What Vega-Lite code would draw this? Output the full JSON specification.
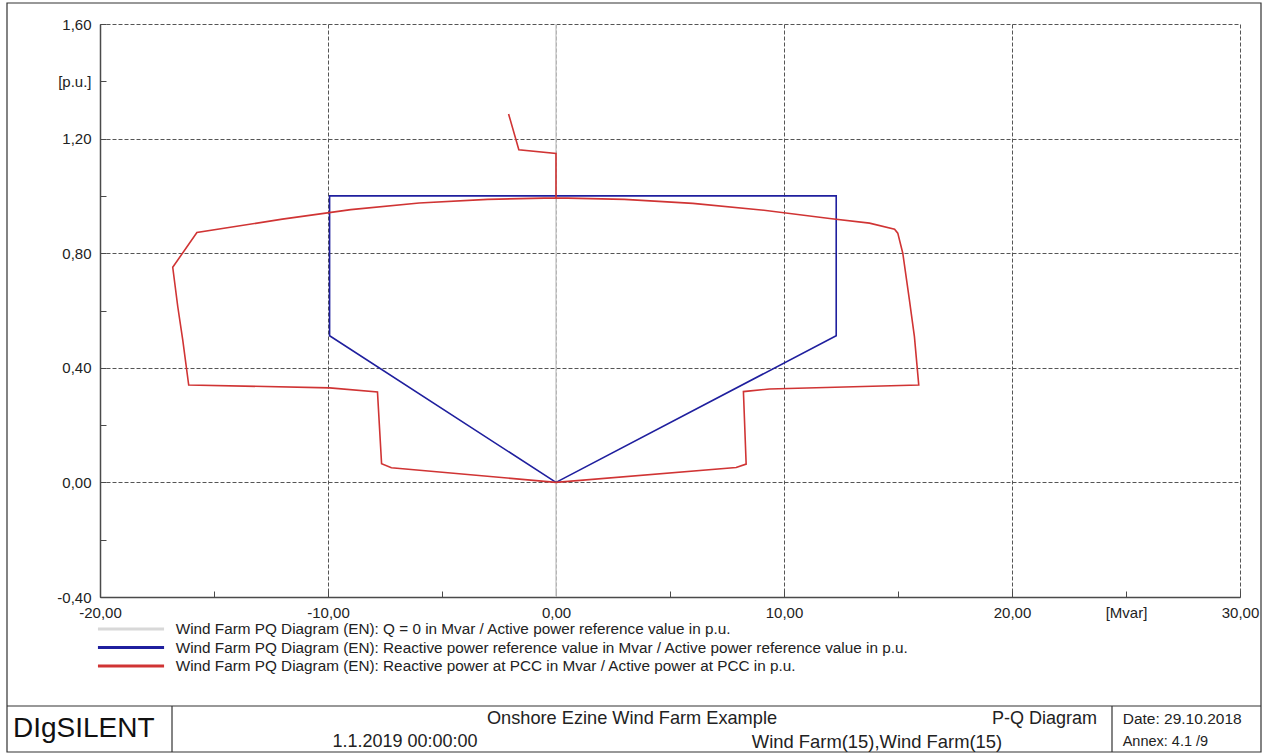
{
  "$schema": "https://vega.github.io/schema/vega-lite/v6.json",
  "autosize": {"type": "none"},
  "width": 1140,
  "height": 573,
  "padding": {"left": 100, "top": 24, "right": 31, "bottom": 156},
  "background": "white",
  "config": {"view": {"stroke": null}, "font": "Liberation Sans"},
  "datasets": {
    "curves": [
      {"series": "Q0", "order": 1, "Q": 0, "P": -0.4},
      {"series": "Q0", "order": 2, "Q": 0, "P": 1.6},
      {"series": "Ref", "order": 1, "Q": 0, "P": 0},
      {"series": "Ref", "order": 2, "Q": -9.93, "P": 0.512},
      {"series": "Ref", "order": 3, "Q": -9.93, "P": 1.0},
      {"series": "Ref", "order": 4, "Q": 12.29, "P": 1.0},
      {"series": "Ref", "order": 5, "Q": 12.29, "P": 0.512},
      {"series": "Ref", "order": 6, "Q": 0, "P": 0},
      {"series": "PCC", "order": 1, "Q": -2.08, "P": 1.286},
      {"series": "PCC", "order": 2, "Q": -1.63, "P": 1.161},
      {"series": "PCC", "order": 3, "Q": 0.0, "P": 1.148},
      {"series": "PCC", "order": 4, "Q": 0.0, "P": 0.993},
      {"series": "PCC", "order": 5, "Q": -3.0, "P": 0.988},
      {"series": "PCC", "order": 6, "Q": -6.0, "P": 0.975},
      {"series": "PCC", "order": 7, "Q": -9.0, "P": 0.952},
      {"series": "PCC", "order": 8, "Q": -12.0, "P": 0.919},
      {"series": "PCC", "order": 9, "Q": -15.75, "P": 0.872},
      {"series": "PCC", "order": 10, "Q": -16.81, "P": 0.751},
      {"series": "PCC", "order": 11, "Q": -16.59, "P": 0.614},
      {"series": "PCC", "order": 12, "Q": -16.37, "P": 0.497},
      {"series": "PCC", "order": 13, "Q": -16.11, "P": 0.34},
      {"series": "PCC", "order": 14, "Q": -9.93, "P": 0.33},
      {"series": "PCC", "order": 15, "Q": -7.83, "P": 0.316},
      {"series": "PCC", "order": 16, "Q": -7.65, "P": 0.065},
      {"series": "PCC", "order": 17, "Q": -7.22, "P": 0.051},
      {"series": "PCC", "order": 18, "Q": 0, "P": 0},
      {"series": "PCC", "order": 19, "Q": 7.9, "P": 0.052},
      {"series": "PCC", "order": 20, "Q": 8.34, "P": 0.064},
      {"series": "PCC", "order": 21, "Q": 8.22, "P": 0.317},
      {"series": "PCC", "order": 22, "Q": 9.36, "P": 0.326},
      {"series": "PCC", "order": 23, "Q": 15.91, "P": 0.34},
      {"series": "PCC", "order": 24, "Q": 15.72, "P": 0.509},
      {"series": "PCC", "order": 25, "Q": 15.5, "P": 0.637},
      {"series": "PCC", "order": 26, "Q": 15.21, "P": 0.8},
      {"series": "PCC", "order": 27, "Q": 14.99, "P": 0.87},
      {"series": "PCC", "order": 28, "Q": 14.85, "P": 0.884},
      {"series": "PCC", "order": 29, "Q": 13.75, "P": 0.905},
      {"series": "PCC", "order": 30, "Q": 12.0, "P": 0.921},
      {"series": "PCC", "order": 31, "Q": 9.0, "P": 0.951},
      {"series": "PCC", "order": 32, "Q": 6.0, "P": 0.974},
      {"series": "PCC", "order": 33, "Q": 3.0, "P": 0.988},
      {"series": "PCC", "order": 34, "Q": 0.0, "P": 0.993}
    ]
  },
  "layer": [
    {
      "data": {"name": "curves"},
      "mark": {"type": "line", "strokeWidth": 1.6, "clip": false},
      "encoding": {
        "x": {
          "field": "Q", "type": "quantitative", "title": null,
          "scale": {"domain": [-20, 30], "nice": false, "zero": false},
          "axis": {
            "values": [-20, -15, -10, -5, 0, 5, 10, 15, 20, 25, 30],
            "labelExpr": "datum.value === 25 ? '[Mvar]' : (datum.value % 10 !== 0 ? '' : (datum.value < 0 ? '-' : '') + replace(format(abs(datum.value), '.2f'), '.', ','))",
            "grid": true,
            "gridDash": [4, 2],
            "gridColor": "#555555",
            "gridWidth": 1,
            "gridOpacity": {"condition": {"test": "datum.value % 10 === 0", "value": 1}, "value": 0},
            "domainColor": "#4a4a4a",
            "domainWidth": 1.5,
            "tickSize": -6,
            "tickColor": "#4a4a4a",
            "tickWidth": 1,
            "labelFont": "Liberation Sans",
            "labelFontSize": 15,
            "labelColor": "#222222",
            "labelPadding": 14,
            "labelFlush": false,
            "labelOverlap": false
          }
        },
        "y": {
          "field": "P", "type": "quantitative", "title": null,
          "scale": {"domain": [-0.4, 1.6], "nice": false, "zero": false},
          "axis": {
            "values": [-0.4, -0.2, 0, 0.2, 0.4, 0.6, 0.8, 1.0, 1.2, 1.4, 1.6],
            "labelExpr": "abs(datum.value - 1.4) < 0.001 ? '[p.u.]' : (round(datum.value * 10) % 4 !== 0 ? '' : (datum.value < -0.001 ? '-' : '') + replace(format(abs(datum.value), '.2f'), '.', ','))",
            "grid": true,
            "gridDash": [4, 2],
            "gridColor": "#555555",
            "gridWidth": 1,
            "gridOpacity": {"condition": {"test": "round(datum.value * 10) % 4 === 0", "value": 1}, "value": 0},
            "domainColor": "#4a4a4a",
            "domainWidth": 1.5,
            "tickSize": -6,
            "tickColor": "#4a4a4a",
            "tickWidth": 1,
            "labelFont": "Liberation Sans",
            "labelFontSize": 15,
            "labelColor": "#222222",
            "labelPadding": 15,
            "labelFlush": false,
            "labelOverlap": false
          }
        },
        "color": {
          "field": "series", "type": "nominal", "legend": null,
          "scale": {"domain": ["Q0", "Ref", "PCC"], "range": ["#cfcfcf", "#1f1f9e", "#d03434"]}
        },
        "order": {"field": "order", "type": "quantitative"}
      }
    },
    {
      "data": {"values": [{}]},
      "mark": {"type": "rect", "fill": null, "stroke": "#333333", "strokeWidth": 1.2},
      "encoding": {
        "x": {"datum": -24.079, "type": "quantitative"},
        "x2": {"datum": 30.921},
        "y": {"datum": 1.6733, "type": "quantitative"},
        "y2": {"datum": -0.941}
      }
    },
    {
      "data": {"values": [{}]},
      "mark": {"type": "rule", "stroke": "#333333", "strokeWidth": 1.2},
      "encoding": {
        "x": {"datum": -24.079, "type": "quantitative"},
        "x2": {"datum": 30.921},
        "y": {"datum": -0.7805, "type": "quantitative"}
      }
    },
    {
      "data": {"values": [{}]},
      "mark": {"type": "rule", "stroke": "#333333", "strokeWidth": 1.2},
      "encoding": {
        "x": {"datum": -16.842, "type": "quantitative"},
        "y": {"datum": -0.7805, "type": "quantitative"},
        "y2": {"datum": -0.941}
      }
    },
    {
      "data": {"values": [{}]},
      "mark": {"type": "rule", "stroke": "#333333", "strokeWidth": 1.2},
      "encoding": {
        "x": {"datum": 24.386, "type": "quantitative"},
        "y": {"datum": -0.7805, "type": "quantitative"},
        "y2": {"datum": -0.941}
      }
    },
    {
      "data": {"values": [{}]},
      "mark": {"type": "rule", "stroke": "#d8d8d8", "strokeWidth": 3},
      "encoding": {
        "x": {"datum": -20.09, "type": "quantitative"},
        "x2": {"datum": -17.19},
        "y": {"datum": -0.5117, "type": "quantitative"}
      }
    },
    {
      "data": {"values": [{}]},
      "mark": {"type": "rule", "stroke": "#1f1f9e", "strokeWidth": 3},
      "encoding": {
        "x": {"datum": -20.09, "type": "quantitative"},
        "x2": {"datum": -17.19},
        "y": {"datum": -0.5763, "type": "quantitative"}
      }
    },
    {
      "data": {"values": [{}]},
      "mark": {"type": "rule", "stroke": "#d03434", "strokeWidth": 3},
      "encoding": {
        "x": {"datum": -20.09, "type": "quantitative"},
        "x2": {"datum": -17.19},
        "y": {"datum": -0.6408, "type": "quantitative"}
      }
    },
    {
      "data": {"values": [{"label": "Wind Farm PQ Diagram (EN): Q = 0 in Mvar / Active power reference value in p.u."}]},
      "mark": {"type": "text", "align": "left", "baseline": "middle", "fontSize": 15.3, "font": "Liberation Sans", "color": "#222222"},
      "encoding": {
        "x": {"datum": -16.68, "type": "quantitative"},
        "y": {"datum": -0.5117, "type": "quantitative"},
        "text": {"field": "label"}
      }
    },
    {
      "data": {"values": [{"label": "Wind Farm PQ Diagram (EN): Reactive power reference value in Mvar / Active power reference value in p.u."}]},
      "mark": {"type": "text", "align": "left", "baseline": "middle", "fontSize": 15.3, "font": "Liberation Sans", "color": "#222222"},
      "encoding": {
        "x": {"datum": -16.68, "type": "quantitative"},
        "y": {"datum": -0.5763, "type": "quantitative"},
        "text": {"field": "label"}
      }
    },
    {
      "data": {"values": [{"label": "Wind Farm PQ Diagram (EN): Reactive power at PCC in Mvar / Active power at PCC in p.u."}]},
      "mark": {"type": "text", "align": "left", "baseline": "middle", "fontSize": 15.3, "font": "Liberation Sans", "color": "#222222"},
      "encoding": {
        "x": {"datum": -16.68, "type": "quantitative"},
        "y": {"datum": -0.6408, "type": "quantitative"},
        "text": {"field": "label"}
      }
    },
    {
      "data": {"values": [{"label": "DIgSILENT"}]},
      "mark": {"type": "text", "align": "left", "baseline": "middle", "fontSize": 28, "font": "Liberation Sans", "color": "#111111"},
      "encoding": {
        "x": {"datum": -23.816, "type": "quantitative"},
        "y": {"datum": -0.8607, "type": "quantitative"},
        "text": {"field": "label"}
      }
    },
    {
      "data": {"values": [{"label": "Onshore Ezine Wind Farm Example"}]},
      "mark": {"type": "text", "align": "center", "baseline": "middle", "fontSize": 18.2, "font": "Liberation Sans", "color": "#222222"},
      "encoding": {
        "x": {"datum": 3.333, "type": "quantitative"},
        "y": {"datum": -0.8258, "type": "quantitative"},
        "text": {"field": "label"}
      }
    },
    {
      "data": {"values": [{"label": "P-Q Diagram"}]},
      "mark": {"type": "text", "align": "right", "baseline": "middle", "fontSize": 18, "font": "Liberation Sans", "color": "#222222"},
      "encoding": {
        "x": {"datum": 23.728, "type": "quantitative"},
        "y": {"datum": -0.8258, "type": "quantitative"},
        "text": {"field": "label"}
      }
    },
    {
      "data": {"values": [{"label": "1.1.2019 00:00:00"}]},
      "mark": {"type": "text", "align": "center", "baseline": "middle", "fontSize": 18, "font": "Liberation Sans", "color": "#222222"},
      "encoding": {
        "x": {"datum": -6.623, "type": "quantitative"},
        "y": {"datum": -0.9061, "type": "quantitative"},
        "text": {"field": "label"}
      }
    },
    {
      "data": {"values": [{"label": "Wind Farm(15),Wind Farm(15)"}]},
      "mark": {"type": "text", "align": "center", "baseline": "middle", "fontSize": 18.4, "font": "Liberation Sans", "color": "#222222"},
      "encoding": {
        "x": {"datum": 14.079, "type": "quantitative"},
        "y": {"datum": -0.9061, "type": "quantitative"},
        "text": {"field": "label"}
      }
    },
    {
      "data": {"values": [{"label": "Date: 29.10.2018"}]},
      "mark": {"type": "text", "align": "left", "baseline": "middle", "fontSize": 15.5, "font": "Liberation Sans", "color": "#222222"},
      "encoding": {
        "x": {"datum": 24.855, "type": "quantitative"},
        "y": {"datum": -0.8258, "type": "quantitative"},
        "text": {"field": "label"}
      }
    },
    {
      "data": {"values": [{"label": "Annex: 4.1 /9"}]},
      "mark": {"type": "text", "align": "left", "baseline": "middle", "fontSize": 14.5, "font": "Liberation Sans", "color": "#222222"},
      "encoding": {
        "x": {"datum": 24.855, "type": "quantitative"},
        "y": {"datum": -0.9061, "type": "quantitative"},
        "text": {"field": "label"}
      }
    }
  ]
}
